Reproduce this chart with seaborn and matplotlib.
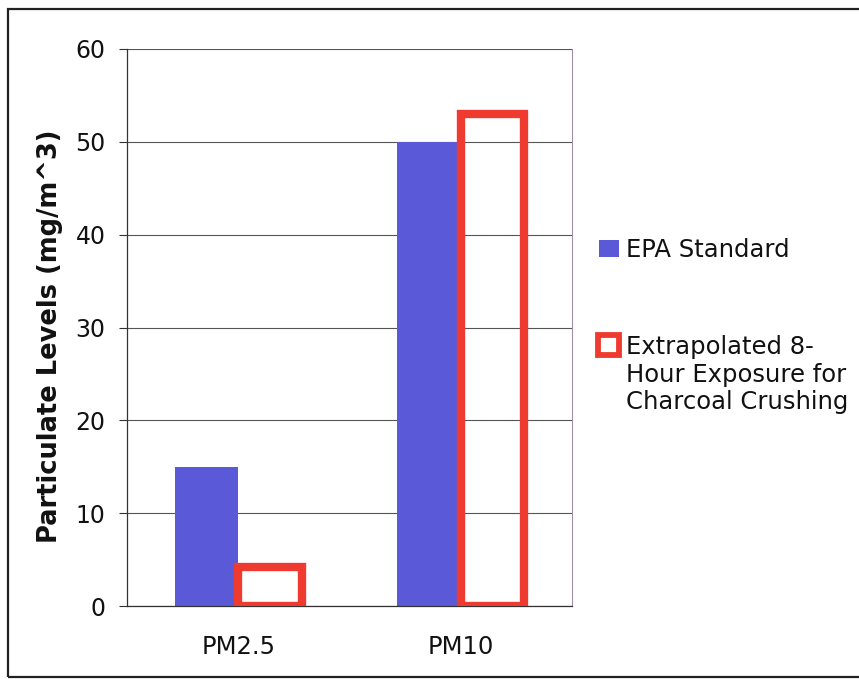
import matplotlib
matplotlib.use("Agg")
import matplotlib.pyplot as plt
from matplotlib.patches import Rectangle
import pandas as pd
import seaborn as sns

# Data
pollutants = ["PM2.5", "PM10"]
series_names = ["EPA Standard", "Extrapolated 8-\nHour Exposure for\nCharcoal Crushing"]
epa_standard = [15, 50]
charcoal_exposure = [4.2, 53]
y_ticks = [0, 10, 20, 30, 40, 50, 60]

BLUE = "#5a5ad8"
RED = "#ef3b2f"

df = pd.DataFrame({
    "pollutant": pollutants * 2,
    "level": epa_standard + charcoal_exposure,
    "series": [series_names[0]] * len(pollutants) + [series_names[1]] * len(pollutants),
})

sns.set_theme(style="white")
plt.rcParams["font.family"] = ["DejaVu Sans"]

W, H = 859, 679
fig = plt.figure(figsize=(W / 100, H / 100), dpi=100)
ax = fig.add_axes([127 / W, 1 - 606 / H, (572 - 127) / W, (606 - 49) / H])

sns.barplot(
    data=df, x="pollutant", y="level", hue="series",
    order=pollutants, hue_order=series_names,
    palette=[BLUE, RED], saturation=1, width=0.57,
    legend=False, ax=ax,
)

# second series: hollow red boxes
for bar in ax.containers[0]:
    bar.set_edgecolor("none")
for bar in ax.containers[1]:
    bar.set_facecolor("none")
    bar.set_edgecolor(RED)
    bar.set_linewidth(6.0)
    bar.set_zorder(3)

ax.set_xlim(-0.5, 1.5)
ax.set_ylim(0, 60)
ax.set_yticks(y_ticks)
ax.set_yticklabels([str(v) for v in y_ticks], fontsize=17, color="#111111")
ax.set_xticks([0, 1])
ax.set_xticklabels(pollutants, fontsize=17.5, color="#111111")
ax.set_xlabel("")
ax.set_ylabel("Particulate Levels (mg/m^3)", fontsize=18.5, fontweight="bold",
              color="#111111")
ax.yaxis.set_label_coords(-0.144, 0.485)

ax.set_axisbelow(True)
ax.yaxis.grid(True, color="#555555", linewidth=0.8)
ax.xaxis.grid(False)

# category boundary ticks on the x axis
ax.set_xticks([-0.5, 0.5, 1.5], minor=True)
ax.tick_params(axis="x", which="major", length=0, pad=21)
ax.tick_params(axis="x", which="minor", length=4.5, width=0.8, color="#333333", direction="out")
ax.tick_params(axis="y", which="major", length=5.5, width=0.8, color="#333333", direction="out",
               pad=10, left=True)

for side in ["left", "bottom"]:
    ax.spines[side].set_color("#333333")
    ax.spines[side].set_linewidth(0.9)
ax.spines["right"].set_color("#9a90a8")
ax.spines["right"].set_linewidth(0.8)
ax.spines["top"].set_visible(False)

# legend on the right
LEG_FS = 17.5
LEG_LS = 1.19
handles = [
    Rectangle((0, 0), 1, 1, facecolor=BLUE, edgecolor="none"),
    Rectangle((0, 0), 1, 1, facecolor="white", edgecolor=RED, linewidth=4.2),
]
leg = fig.legend(
    handles, series_names, loc="upper left",
    bbox_to_anchor=(599 / W, 1 - 238 / H), frameon=False,
    fontsize=LEG_FS, handlelength=0.82, handleheight=0.7, handletextpad=0.29,
    labelspacing=3.0, borderpad=0, borderaxespad=0,
)
for t in leg.get_texts():
    t.set_color("#111111")
    t.set_linespacing(LEG_LS)
# hollow marker: a bit larger, beside the first line of its label
red_handle = leg.legend_handles[1]
y0 = red_handle.get_y()
red_handle.set_bounds(red_handle.get_x() - 1.0, y0 + 21.0, 15.5, 14.5)

# outer frame
fig.patches.append(Rectangle((8 / W, 1 - 677 / H), 1.0, (677 - 9) / H,
                             transform=fig.transFigure, fill=False,
                             edgecolor="#222222", linewidth=1.6))

fig.savefig("out.png", dpi=100)
